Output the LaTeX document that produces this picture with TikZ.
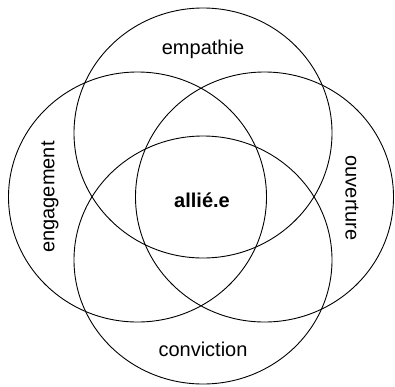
\documentclass[tikz,border=0pt]{standalone}
\usepackage{fontspec}
\setmainfont{Liberation Sans}
\begin{document}
\begin{tikzpicture}[x=1pt,y=-1pt,
  ring/.style={draw=black,line width=0.9pt},
  lbl/.style={font=\fontsize{20}{22}\selectfont,inner sep=0pt}]
\useasboundingbox (0,0) rectangle (395,386);
\draw[ring] (203,133) ellipse [x radius=129, y radius=125];
\draw[ring] (137.5,197) ellipse [x radius=129, y radius=125];
\draw[ring] (264.5,197) ellipse [x radius=129, y radius=125];
\draw[ring] (203,260) ellipse [x radius=129, y radius=124];
\node[lbl] (emp) at (203,49) {empathie};
\node[lbl,font=\fontsize{20}{22}\selectfont\bfseries] (al) at (202,200) {allié.e};
\node[lbl] (conv) at (203,349) {conviction};
\node[lbl,rotate=90] (eng) at (50,197) {engagement};
\node[lbl,rotate=-90] (ouv) at (352,198) {ouverture};
\end{tikzpicture}
\end{document}
